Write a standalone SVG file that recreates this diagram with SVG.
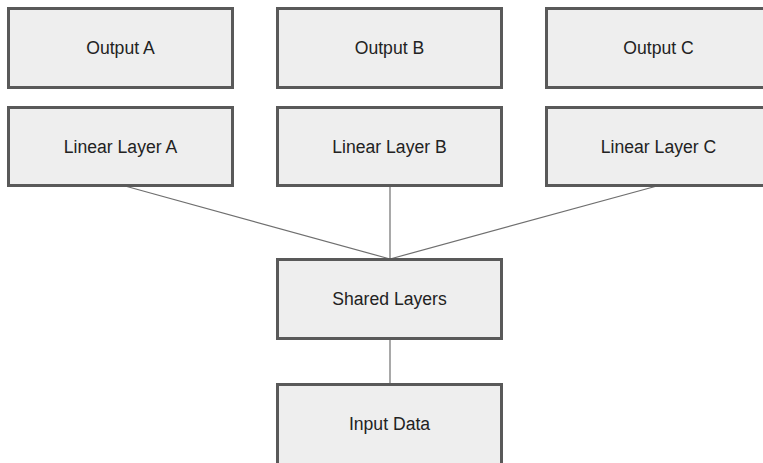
<svg xmlns="http://www.w3.org/2000/svg" width="763" height="463" viewBox="0 0 763 463">
<style>
.box{fill:#eeeeee;stroke:#595959;stroke-width:3}
.lbl{font-family:"Liberation Sans",Arial,sans-serif;font-size:17.6px;fill:#222;text-anchor:middle;dominant-baseline:central}
.edge{stroke:#6f6f6f;stroke-width:1.2;fill:none}
</style>
<rect width="763" height="463" fill="#ffffff"/>
<g id="connectors">
<line class="edge" x1="125" y1="186" x2="390" y2="259"/>
<line class="edge" x1="390" y1="186" x2="390" y2="259"/>
<line class="edge" x1="657" y1="186" x2="390" y2="259"/>
<line class="edge" x1="390" y1="339" x2="390" y2="384"/>
</g>
<g id="outA"><rect class="box" x="8.5" y="8.5" width="224" height="79"/><text class="lbl" x="120.5" y="48">Output A</text></g>
<g id="outB"><rect class="box" x="277.5" y="8.5" width="224" height="79"/><text class="lbl" x="389.5" y="48">Output B</text></g>
<g id="outC"><rect class="box" x="546.5" y="8.5" width="224" height="79"/><text class="lbl" x="658.5" y="48">Output C</text></g>
<g id="linA"><rect class="box" x="8.5" y="107.5" width="224" height="78"/><text class="lbl" x="120.5" y="147">Linear Layer A</text></g>
<g id="linB"><rect class="box" x="277.5" y="107.5" width="224" height="78"/><text class="lbl" x="389.5" y="147">Linear Layer B</text></g>
<g id="linC"><rect class="box" x="546.5" y="107.5" width="224" height="78"/><text class="lbl" x="658.5" y="147">Linear Layer C</text></g>
<g id="shared"><rect class="box" x="277.5" y="259.5" width="224" height="79"/><text class="lbl" x="389.5" y="299">Shared Layers</text></g>
<g id="input"><rect class="box" x="277.5" y="384.5" width="224" height="90"/><text class="lbl" x="389.5" y="424">Input Data</text></g>
</svg>
